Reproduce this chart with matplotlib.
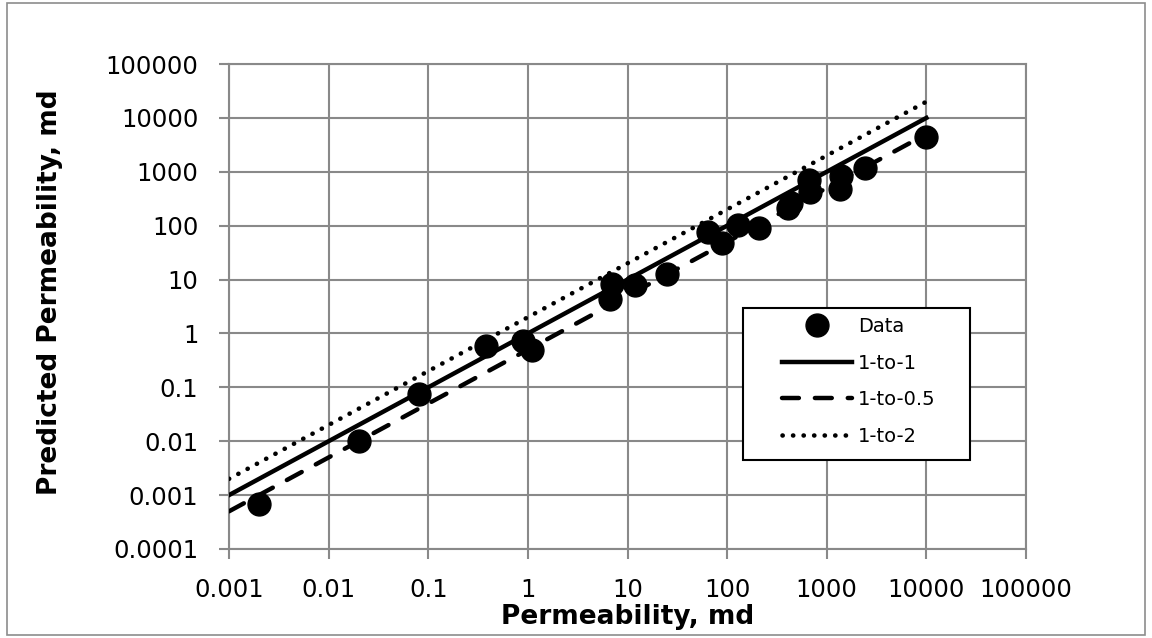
import numpy as np
import matplotlib
matplotlib.use("Agg")
import matplotlib.pyplot as plt
from matplotlib.patches import Rectangle

plt.rcParams["font.family"] = ["DejaVu Sans"]

# measured vs predicted permeability (md)
perm = [0.002, 0.02, 0.08, 0.38, 0.9, 1.1, 6.6, 7.0, 12, 25, 65, 88,
        130, 210, 410, 440, 660, 680, 1350, 1400, 2400, 10000]
pred = [0.00068, 0.0102, 0.075, 0.58, 0.72, 0.49, 4.3, 8.2, 7.8, 12.5, 76, 48,
        105, 90, 215, 260, 690, 415, 470, 845, 1200, 4450]

# reference lines (end points)
ref_x = [0.001, 10000]
one_to_one = [0.001, 10000]
one_to_half = [0.0005, 5000]
one_to_two = [0.002, 20000]

x_ticks = [0.001, 0.01, 0.1, 1, 10, 100, 1000, 10000, 100000]
x_labels = ["0.001", "0.01", "0.1", "1", "10", "100", "1000", "10000", "100000"]
y_ticks = [0.0001, 0.001, 0.01, 0.1, 1, 10, 100, 1000, 10000, 100000]
y_labels = ["0.0001", "0.001", "0.01", "0.1", "1", "10", "100", "1000", "10000", "100000"]

grid_col = "#898989"

fig = plt.figure(figsize=(11.52, 6.38), dpi=100)
ax = fig.add_axes([229 / 1152, 1 - 549 / 638, 797 / 1152, 485 / 638])

ax.plot(perm, pred, "o", color="black", ms=16.5, label="Data", zorder=3)
ax.plot(ref_x, one_to_one, "-", color="black", lw=3.2, label="1-to-1", zorder=4)
ax.plot(ref_x, one_to_half, color="black", lw=3.2, linestyle=(0, (3.8, 3.6)),
        dash_capstyle="round", label="1-to-0.5", zorder=4)
ax.plot(ref_x, one_to_two, color="black", lw=3.3, linestyle=(0, (0.05, 2.25)),
        dash_capstyle="round", label="1-to-2", zorder=4)

ax.set_xscale("log")
ax.set_yscale("log")
ax.set_xlim(0.001, 100000)
ax.set_ylim(0.0001, 100000)
ax.set_xticks(x_ticks)
ax.set_xticklabels(x_labels)
ax.set_yticks(y_ticks)
ax.set_yticklabels(y_labels)
ax.minorticks_off()
ax.grid(True, color=grid_col, lw=1.5, zorder=0)
ax.set_axisbelow(True)
for s in ax.spines.values():
    s.set_color(grid_col)
    s.set_linewidth(1.5)
ax.tick_params(axis="both", length=7, width=1.5, color=grid_col, labelsize=17.5)
ax.tick_params(axis="x", pad=14)
ax.tick_params(axis="y", pad=15)

ax.set_xlabel("Permeability, md", fontsize=19, fontweight="bold")
ax.set_ylabel("Predicted Permeability, md", fontsize=19, fontweight="bold")
ax.xaxis.set_label_coords(0.5, -0.113)
ax.yaxis.set_label_coords(-0.208, 0.53)

# legend box (Excel style)
box = Rectangle((0.6453, 0.1835), 0.2844, 0.3128, transform=ax.transAxes,
                facecolor="white", edgecolor="black", lw=1.5, zorder=5)
ax.add_patch(box)
leg = ax.legend(loc="upper left", bbox_to_anchor=(0.694, 0.478), frameon=False,
                fontsize=14, numpoints=1, handlelength=3.6, handletextpad=0.3,
                borderpad=0, borderaxespad=0, labelspacing=0.9)
leg.set_zorder(6)

# chart area border
fig.add_artist(Rectangle((7 / 1152, 3 / 638), 1138 / 1152, 632 / 638,
                         transform=fig.transFigure, fill=False,
                         edgecolor="#8c8c8c", lw=1.2))

fig.savefig("out.png", dpi=100)
